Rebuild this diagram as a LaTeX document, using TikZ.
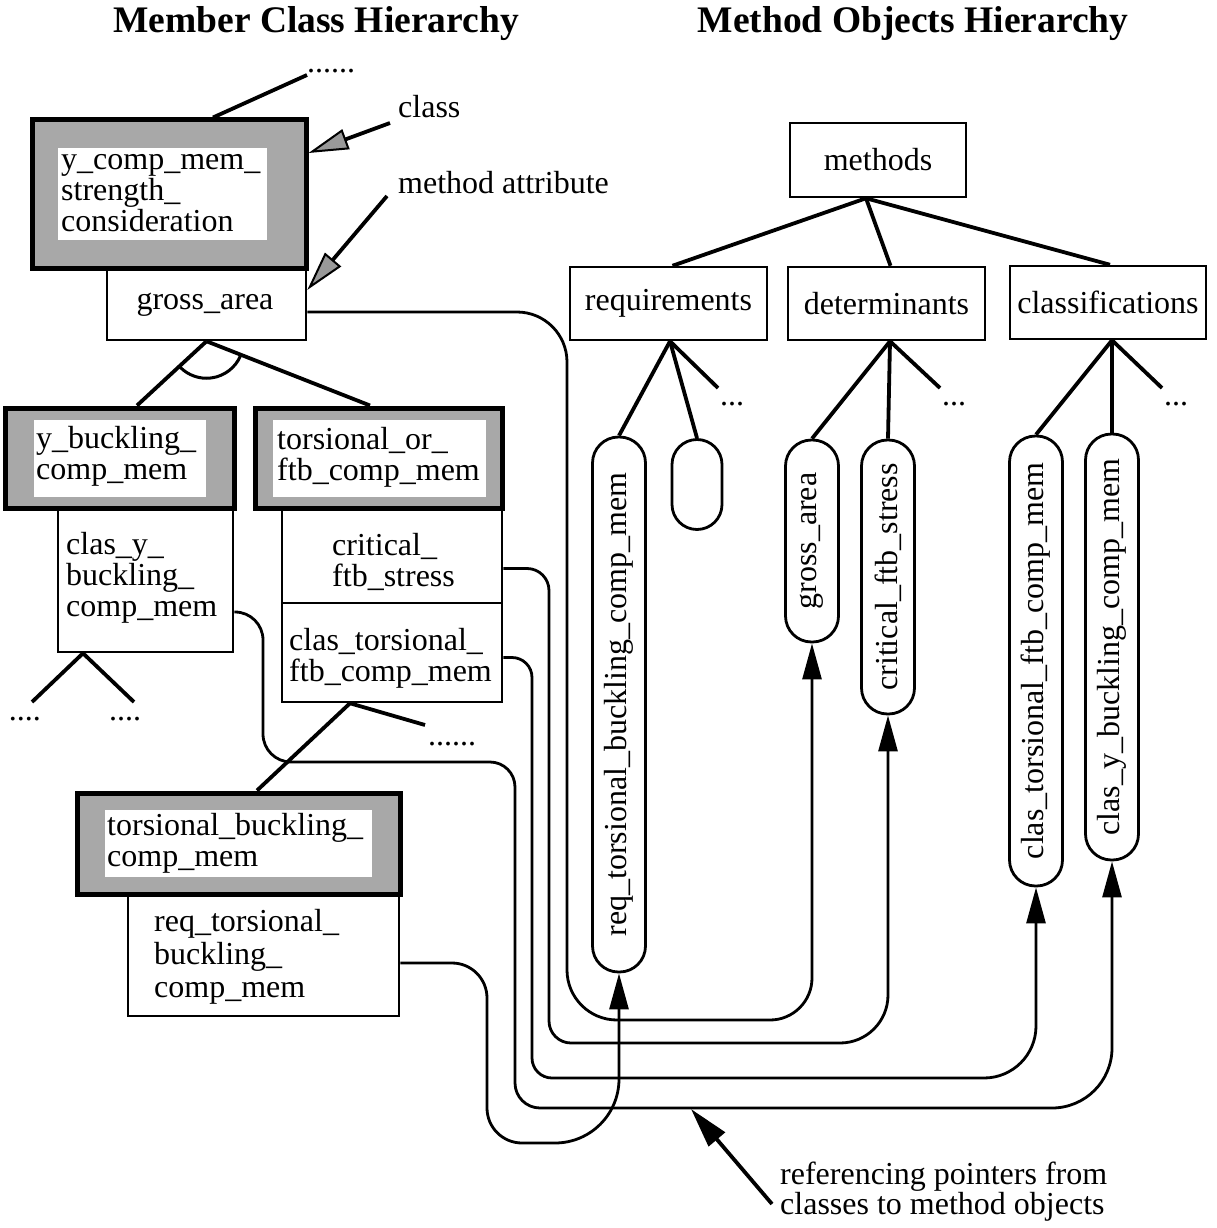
\documentclass[tikz,border=0pt]{standalone}
\usepackage{fontspec}
\setmainfont{Liberation Serif}
\usetikzlibrary{arrows.meta,calc}

\tikzset{
  lbl/.style={font=\fontsize{32}{31}\selectfont, inner sep=0pt},
  txt/.style={lbl, align=left, anchor=west},
  classbox/.style={draw, line width=5pt, fill=black!34, inner sep=0pt},
  innerbox/.style={fill=white, inner sep=0pt},
  attrbox/.style={draw, line width=2.5pt, fill=white, inner sep=0pt},
  topbox/.style={draw, line width=2.5pt, fill=white, inner sep=0pt, font=\fontsize{32}{31}\selectfont},
  pill/.style={draw, line width=2.8pt, rounded corners=26pt, inner sep=0pt, rotate=90,
               minimum height=53pt, font=\fontsize{32}{31}\selectfont},
  tree/.style={line width=3.8pt},
  ptr/.style={line width=2.8pt, -{Triangle[length=36pt,width=19pt]}},
  note/.style={line width=3.8pt, -{Triangle[length=40pt,width=21pt,fill=black!40,line width=2pt]}},
  title/.style={font=\fontsize{37.5}{40}\selectfont\bfseries, inner sep=0pt},
}

\begin{document}
\begin{tikzpicture}[x=1pt,y=-1pt]
\useasboundingbox (0,0) rectangle (1217,1228);

% ---------- titles ----------
\node[title] (t1) at (316,24) {Member Class Hierarchy};
\node[title] (t2) at (913,24) {Method Objects Hierarchy};

% ---------- member class hierarchy: attribute boxes ----------
\node[attrbox, minimum width=199pt, minimum height=72pt] (ga) at (206.5,304) {};
\node[attrbox, minimum width=175pt, minimum height=144pt] (cy) at (145.5,580) {};
\node[attrbox, minimum width=220pt, minimum height=95pt] (cr) at (392,555.5) {};
\node[attrbox, minimum width=220pt, minimum height=99pt] (ctc) at (392,652.5) {};
\node[attrbox, minimum width=271pt, minimum height=122pt] (rq) at (263.5,955) {};

% ---------- class boxes ----------
\node[classbox, minimum width=274pt, minimum height=148pt] (ycm) at (169,194) {};
\node[innerbox, minimum width=209pt, minimum height=92pt] (ycmin) at (162.5,194) {};
\node[classbox, minimum width=229pt, minimum height=100pt] (ybc) at (119.5,458) {};
\node[innerbox, minimum width=172pt, minimum height=77pt] (ybcin) at (120,458.5) {};
\node[classbox, minimum width=247pt, minimum height=100pt] (tor) at (378.5,458) {};
\node[innerbox, minimum width=213pt, minimum height=77pt] (torin) at (379.5,458.5) {};
\node[classbox, minimum width=323pt, minimum height=101pt] (tb) at (238.5,843.5) {};
\node[innerbox, minimum width=267pt, minimum height=67pt] (tbin) at (238.5,843.5) {};

% ---------- texts of the member class hierarchy ----------
\node[txt] (ycmt) at (61,193) {y\_comp\_mem\_\\strength\_\\consideration};
\node[lbl] (gat) at (205,305) {gross\_area};
\node[txt] (ybct) at (36,456) {y\_buckling\_\\comp\_mem};
\node[txt] (cyt) at (66,578) {clas\_y\_\\buckling\_\\comp\_mem};
\node[txt] (tort) at (277,457) {torsional\_or\_\\ftb\_comp\_mem};
\node[txt] (crt) at (332,562) {critical\_\\ftb\_stress};
\node[txt] (ctct) at (289,658) {clas\_torsional\_\\ftb\_comp\_mem};
\node[txt] (tbt) at (107,843) {torsional\_buckling\_\\comp\_mem};
\node[txt, font=\fontsize{32}{33}\selectfont] (rqt) at (154,957) {req\_torsional\_\\buckling\_\\comp\_mem};

% ---------- branches of the member class hierarchy ----------
\node[lbl, anchor=west] (tdots) at (307,71) {......};
\draw[tree] ([xshift=44pt]ycm.north) -- ([yshift=-4pt]tdots.west);

\draw[tree] (ga.south) -- ([xshift=17.5pt]ybc.north);
\draw[tree] (ga.south) -- ([xshift=-8.5pt]tor.north);
\draw[line width=3pt] ($(ga.south)+(22.6:37)$) arc[start angle=22.6, end angle=135.6, radius=37];

\coordinate (cyl) at (32,702);
\coordinate (cyr) at (134,702);
\node[lbl] (cydl) at (25,719) {....};
\node[lbl] (cydr) at (125,719) {....};
\draw[tree] ([xshift=-62.5pt]cy.south) -- (cyl);
\draw[tree] ([xshift=-62.5pt]cy.south) -- (cyr);

\coordinate (ctr) at (425,725);
\node[lbl, anchor=west] (ctdots) at (428,744) {......};
\draw[tree] ([xshift=-42pt]ctc.south) -- ([xshift=18.5pt]tb.north);
\draw[tree] ([xshift=-42pt]ctc.south) -- (ctr);

% ---------- notes ----------
\node[lbl, anchor=west] (lclass) at (398,107) {class};
\node[lbl, anchor=west] (lmeth) at (398,183) {method attribute};
\draw[note] ([xshift=-8pt,yshift=-16pt]lclass.west) -- ([yshift=41pt]ycm.east);
\draw[note] ([xshift=-11pt,yshift=-13pt]lmeth.west) -- ([yshift=14pt]ga.east);

% ---------- method objects hierarchy ----------
\node[topbox, minimum width=176pt, minimum height=74pt] (meth) at (878,160) {methods};
\node[topbox, minimum width=197pt, minimum height=73pt] (req) at (668.5,303.5) {requirements};
\node[topbox, minimum width=197pt, minimum height=73pt] (det) at (886.5,303.5) {determinants};
\node[topbox, minimum width=196pt, minimum height=73pt] (cls) at (1108,302.5) {classifications};

\draw[tree] ([xshift=-12pt]meth.south) -- ([xshift=4pt]req.north);
\draw[tree] ([xshift=-12pt]meth.south) -- ([xshift=4pt]det.north);
\draw[tree] ([xshift=-12pt]meth.south) -- ([xshift=2pt]cls.north);

% method objects (top = east, bottom = west of the turned pills)
\node[pill, minimum width=535pt] (prq) at (619,704.5) {req\_torsional\_buckling\_comp\_mem};
\node[pill, minimum width=90pt, minimum height=50pt, rounded corners=25pt] (psm) at (697,484.5) {};
\node[pill, minimum width=202pt] (pga) at (812,541) {gross\_area};
\node[pill, minimum width=274pt] (pcr) at (888,577) {critical\_ftb\_stress};
\node[pill, minimum width=450pt] (pct) at (1036,661) {clas\_torsional\_ftb\_comp\_mem};
\node[pill, minimum width=426pt] (pcy) at (1112,647) {clas\_y\_buckling\_comp\_mem};

\coordinate (rqx) at (718,388);
\coordinate (dtx) at (940,388);
\coordinate (clx) at (1162,388);
\node[lbl] (rqdots) at (732,404) {...};
\node[lbl] (dtdots) at (954,404) {...};
\node[lbl] (cldots) at (1176,404) {...};

\draw[tree] ([xshift=1.5pt]req.south) -- (prq.east);
\draw[tree] ([xshift=1.5pt]req.south) -- (psm.east);
\draw[tree] ([xshift=1.5pt]req.south) -- (rqx);
\draw[tree] ([xshift=3.5pt]det.south) -- (pga.east);
\draw[tree] ([xshift=3.5pt]det.south) -- (pcr.east);
\draw[tree] ([xshift=3.5pt]det.south) -- (dtx);
\draw[tree] ([xshift=4pt]cls.south) -- (pct.east);
\draw[tree] ([xshift=4pt]cls.south) -- (pcy.east);
\draw[tree] ([xshift=4pt]cls.south) -- (clx);

% ---------- referencing pointers ----------
\coordinate (laneA) at (567,1020);
\coordinate (laneB) at (549,1043);
\coordinate (laneC) at (532,1078);
\coordinate (bendD) at (263,762);
\coordinate (laneD) at (515,1108);
\coordinate (loopE) at (487,1143);

\draw[ptr] ([yshift=-8pt]ga.east) [rounded corners=50pt] -| (laneA) [rounded corners=42pt] -| (pga.west);
\draw[ptr] ([yshift=-13pt]cr.east) [rounded corners=22pt] -| (laneB) [rounded corners=48pt] -| (pcr.west);
\draw[ptr] ([yshift=-5pt]ctc.east) [rounded corners=20pt] -| (laneC) [rounded corners=52pt] -| (pct.west);
\draw[ptr] ([yshift=-32pt]cy.east) [rounded corners=28pt] -| (bendD) [rounded corners=25pt] -| (laneD) [rounded corners=60pt] -| (pcy.west);
\draw[ptr] ([yshift=-8pt]rq.east) [rounded corners=35pt] -| (loopE) [rounded corners=64pt] -| (prq.west);

\node[lbl, align=left, anchor=west, font=\fontsize{32}{30}\selectfont] (lref) at (780,1192)
  {referencing pointers from\\classes to method objects};
\coordinate (refpt) at (691,1109);
\draw[line width=3.8pt, -{Triangle[length=40pt,width=21pt]}] ([xshift=-8pt,yshift=-12pt]lref.west) -- (refpt);

\end{tikzpicture}
\end{document}
